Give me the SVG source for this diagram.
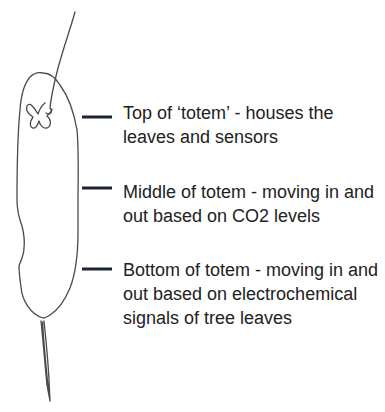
<svg xmlns="http://www.w3.org/2000/svg" width="385" height="412" viewBox="0 0 385 412">
  <style>
    .sketch { fill: none; stroke: #4a4a4a; stroke-width: 1.3; stroke-linecap: round; stroke-linejoin: round; }
    .tick { stroke: #1b2232; stroke-width: 3; }
    .label { font-family: "Liberation Sans", Arial, sans-serif; font-size: 18px; fill: #222222; }
  </style>
  <rect width="385" height="412" fill="#ffffff"/>

  <!-- hand-drawn totem -->
  <g id="totem">
    <!-- body outline -->
    <path class="sketch" d="M 43 318 C 30 314, 22 300, 21 287 C 20 280, 19 272, 19 266 C 21 260, 24 255, 24 248 C 25 240, 24 234, 22 226 C 19 218, 17 210, 17 200 C 17 170, 18 130, 20 110 C 21 95, 24 84, 30 77 C 34 73, 39 72, 43 73 C 49 73, 55 77, 60 85 C 68 96, 74 112, 77 130 C 79 150, 78 180, 78 205 L 78 232 C 78 255, 75 275, 70 288 C 65 300, 58 310, 50 315 C 47 317, 45 318, 43 318 Z"/>
    <!-- thread from the top down into the leaves -->
    <path class="sketch" d="M 75 12 C 70 30, 62 52, 57 72 C 53 88, 51 98, 50 108 C 53 111, 51 116, 46 113"/>
    <!-- leaf cluster -->
    <path class="sketch" d="M 45 103 C 41 106, 39 111, 38 114 C 35 109, 30 101, 27 106 C 25 111, 30 115, 33 117 C 30 121, 29 127, 33 128 C 36 129, 38 124, 39 121 C 40 125, 43 129, 47 128 C 52 126, 51 119, 47 116 C 49 113, 52 112, 52 109"/>
    <!-- stem below the body -->
    <path class="sketch" d="M 41 321 C 43 340, 45 365, 47 385 L 50 401 M 44 321 C 46 340, 48 360, 49 380 L 50 401 M 42.5 322 C 44 345, 46 368, 49 395" stroke="#333333"/>
  </g>

  <!-- leader ticks -->
  <g id="connectors">
    <line class="tick" x1="82" y1="117" x2="112" y2="117"/>
    <line class="tick" x1="82" y1="188" x2="112" y2="188"/>
    <line class="tick" x1="82" y1="269" x2="112" y2="269"/>
  </g>

  <g id="label-top">
    <text class="label" x="123" y="119">Top of ‘totem’ - houses the</text>
    <text class="label" x="123" y="143">leaves and sensors</text>
  </g>
  <g id="label-middle">
    <text class="label" x="123" y="198">Middle of totem - moving in and</text>
    <text class="label" x="123" y="222">out based on CO2 levels</text>
  </g>
  <g id="label-bottom">
    <text class="label" x="123" y="276">Bottom of totem - moving in and</text>
    <text class="label" x="123" y="300">out based on electrochemical</text>
    <text class="label" x="123" y="324">signals of tree leaves</text>
  </g>
</svg>
